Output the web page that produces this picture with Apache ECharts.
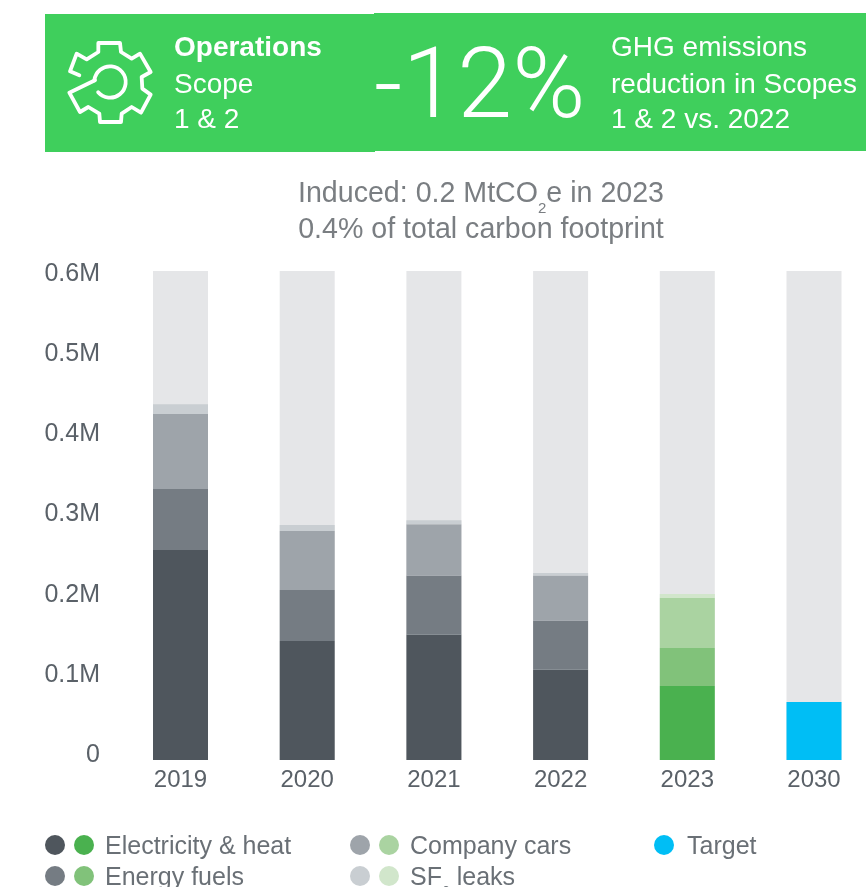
<!DOCTYPE html>
<html>
<head>
<meta charset="utf-8">
<style>html,body{margin:0;padding:0;background:#fff;overflow:hidden}#c{width:866px;height:887px}</style>
<script src="https://cdn.jsdelivr.net/npm/echarts@6/dist/echarts.min.js"></script>
</head>
<body>
<div id="c"></div>
<script>
const categories = ['2019','2020','2021','2022','2023','2030'];
const electricity = [0.2577,0.146,0.154,0.111,0.0908,null];
const energyFuels = [0.0748,0.0626,0.0724,0.0601,0.0466,null];
const companyCars = [0.092,0.0724,0.0628,0.0552,0.0613,null];
const sf6Leaks = [0.012,0.0074,0.005,0.0031,0.0049,null];
const target = [null,null,null,null,null,0.0712];
const yTickLabels = ['0','0.1M','0.2M','0.3M','0.4M','0.5M','0.6M'];
const greyShades = ['#4f565d','#757c83','#9ea4aa','#c9ced2'];
const greenShades = ['#4ab14f','#81c27a','#aad3a1','#d1e6cb'];
const GREEN_INDEX = 4;

const FONT = 'Liberation Sans';
const BIG_FONT = 'Roboto';
const TXT = '#5a6168';
const LEGTXT = '#6a7076';
const TTLTXT = '#7a7e82';
const HEAD = '#3fcf5c';

function stackSeries(name, data, i){
  return {
    name, type:'bar', stack:'total', barWidth:55, clip:false, data:data.map((v,k)=>({
      value:v, itemStyle:{color:k===GREEN_INDEX?greenShades[i]:greyShades[i]}
    })),
    itemStyle:{color:greyShades[i]}, z:3,
    showBackground:i===0, backgroundStyle:{color:'#e5e6e8'}
  };
}
function label(x,y,text,size,weight,color,extra){
  return {type:'text',x,y,silent:true,z:10,style:Object.assign({
    text,fontFamily:FONT,fontSize:size,fontWeight:weight,fill:color,
    textVerticalAlign:'middle',textAlign:'left'},extra||{})};
}
function dot(x,y,color){return {type:'circle',shape:{cx:x,cy:y,r:10},style:{fill:color},silent:true};}
const gearOutline=[[58,130],[30,118],[50,65],[80,82],[115,60],[115,33],[180,33],[183,60],[215,80],[240,65],[272,120],[245,135],[247,170],[272,188],[243,242],[215,225],[185,245],[183,270],[120,270],[118,245],[85,225],[60,240],[28,182],[105,145]]
  .map(p=>[p[0]/3+60,p[1]/3+32]);
const gearStroke={fill:'none',stroke:'#fff',lineWidth:3.8,lineJoin:'round',lineCap:'round'};
const LEG=25, TTL=28.6, HDR=28;
const legendRich={a:{fontFamily:FONT,fontSize:LEG,fontWeight:400,fill:LEGTXT,lineHeight:42},
  s:{fontFamily:FONT,fontSize:14,fontWeight:400,fill:LEGTXT,lineHeight:14,verticalAlign:'bottom'}};
const titleRich={a:{fontFamily:FONT,fontSize:TTL,fontWeight:400,fill:TTLTXT,lineHeight:44},
  s:{fontFamily:FONT,fontSize:15,fontWeight:400,fill:TTLTXT,lineHeight:12,verticalAlign:'bottom'}};

const graphic=[
  {type:'rect',shape:{x:45,y:14,width:330,height:138},style:{fill:HEAD},silent:true},
  {type:'rect',shape:{x:374,y:13,width:492,height:138},style:{fill:HEAD},silent:true},
  {type:'polyline',shape:{points:gearOutline},style:gearStroke,silent:true,z:10},
  {type:'arc',shape:{cx:110,cy:82,r:15.7,startAngle:3.25,endAngle:8.71,clockwise:true},style:gearStroke,silent:true,z:10},
  label(174,48,'Operations',HDR,700,'#fff'),
  label(174,85,'Scope',HDR,400,'#fff'),
  label(174,120,'1 & 2',HDR,400,'#fff'),
  label(374,92,'-12%',99,300,'#fff',{fontFamily:BIG_FONT}),
  label(611,48,'GHG emissions',HDR,400,'#fff'),
  label(611,85,'reduction in Scopes',HDR,400,'#fff'),
  label(611,120,'1 & 2 vs. 2022',HDR,400,'#fff'),
  {type:'text',x:481,y:194,silent:true,style:{text:'{a|Induced: 0.2 MtCO}{s|2}{a|e in 2023}',rich:titleRich,textAlign:'center',textVerticalAlign:'middle'}},
  label(481,230,'0.4% of total carbon footprint',TTL,400,TTLTXT,{textAlign:'center'}),
  dot(55,845,greyShades[0]),dot(84,845,greenShades[0]),
  dot(55,876,greyShades[1]),dot(84,876,greenShades[1]),
  dot(360,845,greyShades[2]),dot(389,845,greenShades[2]),
  dot(360,876,greyShades[3]),dot(389,876,greenShades[3]),
  dot(664,845,'#00bef5'),
  label(105,847,'Electricity & heat',LEG,400,LEGTXT),
  label(105,878,'Energy fuels',LEG,400,LEGTXT),
  label(410,847,'Company cars',LEG,400,LEGTXT),
  {type:'text',x:410,y:878,silent:true,style:{text:'{a|SF}{s|6}{a| leaks}',rich:legendRich,textAlign:'left',textVerticalAlign:'middle'}},
  label(687,847,'Target',LEG,400,LEGTXT)
];

const chart=echarts.init(document.getElementById('c'),null,{renderer:'canvas'});
chart.setOption({
  animation:false,
  backgroundColor:'#fff',
  grid:[
    {left:180.5,top:271,width:633.5,height:489,containLabel:false},
    {left:117,top:274,width:700,height:481,containLabel:false}
  ],
  xAxis:[
    {type:'category',gridIndex:0,data:categories,boundaryGap:false,axisLine:{show:false},axisTick:{show:false},
     axisLabel:{color:TXT,fontFamily:FONT,fontSize:24,margin:8,showMinLabel:true,showMaxLabel:true}},
    {type:'category',gridIndex:1,data:categories,show:false}
  ],
  yAxis:[
    {type:'value',gridIndex:0,min:0,max:0.6,interval:0.1,show:false},
    {type:'value',gridIndex:1,min:0,max:0.6,interval:0.1,
     axisLine:{show:false},axisTick:{show:false},splitLine:{show:false},
     axisLabel:{color:TXT,fontFamily:FONT,fontSize:25,margin:17,align:'right',
       formatter:(v,i)=>yTickLabels[i]}}
  ],
  series:[
    stackSeries('Electricity & heat',electricity,0),
    stackSeries('Energy fuels',energyFuels,1),
    stackSeries('Company cars',companyCars,2),
    stackSeries('SF6 leaks',sf6Leaks,3),
    {name:'Target',type:'bar',stack:'total',barWidth:55,clip:false,data:target,itemStyle:{color:'#00bef5'},z:3}
  ],
  graphic:{elements:graphic}
});
</script>
</body>
</html>
